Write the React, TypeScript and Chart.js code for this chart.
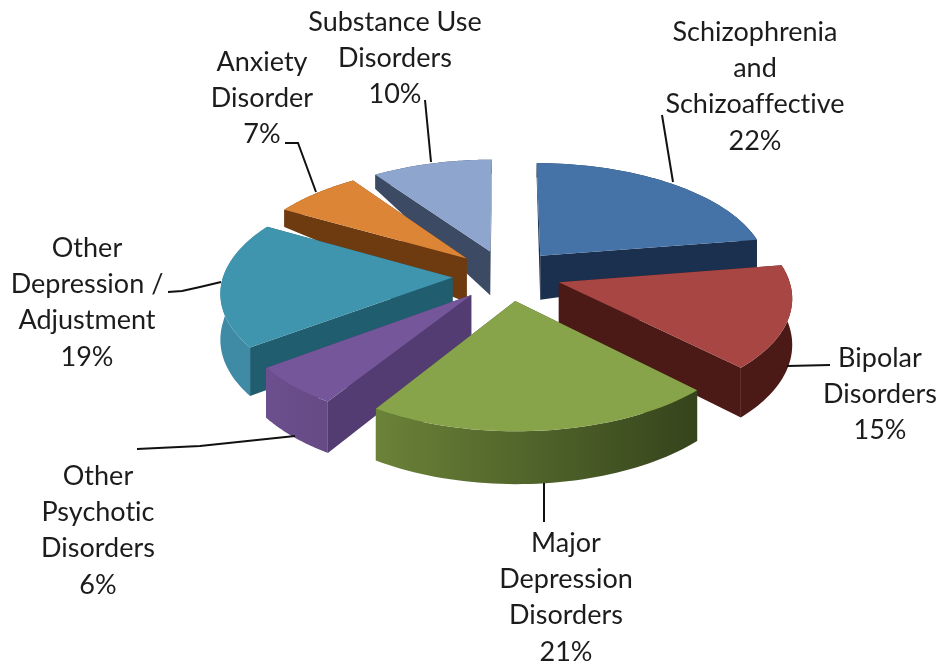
import React, { useEffect, useRef } from "react";
import { Chart, registerables } from "chart.js";

Chart.register(...registerables);

// ---- data ----
const categories = [
  "Schizophrenia and Schizoaffective",
  "Bipolar Disorders",
  "Major Depression Disorders",
  "Other Psychotic Disorders",
  "Other Depression / Adjustment",
  "Anxiety Disorder",
  "Substance Use Disorders",
];
const shares = [22, 15, 21, 6, 19, 7, 10];

const labelLines = [
  ["Schizophrenia", "and", "Schizoaffective"],
  ["Bipolar", "Disorders"],
  ["Major", "Depression", "Disorders"],
  ["Other", "Psychotic", "Disorders"],
  ["Other", "Depression /", "Adjustment"],
  ["Anxiety", "Disorder"],
  ["Substance Use", "Disorders"],
];

// ---- styles ----
const topColors = ["#4573a7", "#a84643", "#88a44b", "#75569a", "#3f94ae", "#dd8537", "#8ea5ce"];
const faceColors = ["#1b2f4f", "#4c1a16", "#3f5020", "#533c72", "#205d6e", "#6e3a10", "#3c4b63"];
const wallLeft = ["#1b2f4f", "#4c1a16", "#6b8238", "#6c4f8e", "#3f8ba5", "#6e3a10", "#3c4b63"];
const wallRight = ["#1b2f4f", "#4c1a16", "#35441c", "#654a85", "#3f8ba5", "#6e3a10", "#3c4b63"];

// label layout: centre x, first line y
const labelX = [755, 880, 566, 98, 87, 262, 395];
const labelY = [32, 358, 543, 476, 248, 62, 22];
const leaders: number[][][] = [
  [[662, 115], [673, 182]],
  [[830, 365], [787, 366]],
  [[544, 522], [544, 483]],
  [[137, 449], [200, 446], [295, 436]],
  [[168, 292], [182, 291], [200, 287], [221, 282]],
  [[285, 143], [298, 143], [316, 192]],
  [[425, 100], [431, 162]],
];

// projection of the pie disc on the page
const CX = 506.5;
const CY = 275;
const RX = 229;
const RY = 108;
const PERSP = 0.12;
const DEPTH = 45;
// angular correction of the projected rim (degrees on the disc -> radians)
const warpAngles = [0, 79, 133, 209, 230, 299, 324, 360];
const warpValues = [0, 0.03, 0.04, 0.06, 0.05, 0.015, 0.02, 0];

function warp(t: number) {
  const deg = (t * 180) / Math.PI;
  for (let i = 1; i < warpAngles.length; i++) {
    if (deg <= warpAngles[i]) {
      const f = (deg - warpAngles[i - 1]) / (warpAngles[i] - warpAngles[i - 1]);
      return warpValues[i - 1] + f * (warpValues[i] - warpValues[i - 1]);
    }
  }
  return 0;
}

function project(u: number, w: number, drop: number): [number, number] {
  const s = 1 / (1 - PERSP * w);
  return [CX + RX * u * s, CY + RY * w * s + drop * DEPTH * s];
}
const rimDrop = (w: number) => (w >= 0 ? 1 : Math.max(0.36, 1 + 0.9 * w));

const depthPlugin = {
  id: "depthPie",
  beforeDatasetsDraw(chart: any) {
    const ctx: CanvasRenderingContext2D = chart.ctx;
    const arcs = chart.getDatasetMeta(0).data;
    const order = arcs
      .map((a: any, i: number) => {
        const m = (a.startAngle + a.endAngle) / 2 + Math.PI / 2;
        return { a, i, key: -Math.cos(m) };
      })
      .sort((p: any, q: any) => p.key - q.key);

    for (const { a, i } of order) {
      const t0 = a.startAngle + Math.PI / 2;
      const t1 = a.endAngle + Math.PI / 2;
      const m = (t0 + t1) / 2;
      const d = a.options.offset / a.outerRadius;
      const du = d * Math.sin(m);
      const dw = -d * Math.cos(m);
      const steps = 48;
      const rim: [number, number][] = [];
      for (let k = 0; k <= steps; k++) {
        const t = t0 + ((t1 - t0) * k) / steps;
        const tw = t + warp(t);
        rim.push([du + Math.sin(tw), dw - Math.cos(tw)]);
      }
      const apex: [number, number] = [du, dw];
      const poly = (pts: [number, number][], fill: any) => {
        ctx.beginPath();
        pts.forEach((p, n) => (n ? ctx.lineTo(p[0], p[1]) : ctx.moveTo(p[0], p[1])));
        ctx.closePath();
        ctx.fillStyle = fill;
        ctx.fill();
      };
      const top = (p: [number, number]) => project(p[0], p[1], 0);
      const low = (p: [number, number]) => project(p[0], p[1], rimDrop(p[1]));
      const apexLow = project(apex[0], apex[1], 1);

      // radial faces
      poly([top(apex), top(rim[0]), low(rim[0]), apexLow], faceColors[i]);
      poly([top(apex), top(rim[steps]), low(rim[steps]), apexLow], faceColors[i]);

      // outer wall
      const wallTop = rim.map(top);
      const wallBottom = rim.map(low).reverse();
      const xs = wallTop.map((p) => p[0]);
      const g = ctx.createLinearGradient(Math.min(...xs), 0, Math.max(...xs), 0);
      g.addColorStop(0, wallLeft[i]);
      g.addColorStop(1, wallRight[i]);
      poly([...wallTop, ...wallBottom], g);

      // top surface
      poly([top(apex), ...wallTop], topColors[i]);
    }
    return false;
  },
  afterDraw(chart: any) {
    const ctx: any = chart.ctx;
    ctx.save();
    ctx.strokeStyle = "#111111";
    ctx.lineWidth = 2;
    leaders.forEach((line) => {
      ctx.beginPath();
      line.forEach((p, n) => (n ? ctx.lineTo(p[0], p[1]) : ctx.moveTo(p[0], p[1])));
      ctx.stroke();
    });
    ctx.fillStyle = "#1c1c1c";
    ctx.font = '27px Lato, "Open Sans", sans-serif';
    ctx.letterSpacing = "0.01px";
    ctx.textAlign = "center";
    ctx.textBaseline = "middle";
    labelLines.forEach((lines, i) => {
      [...lines, shares[i] + "%"].forEach((t, n) => {
        ctx.fillText(t, labelX[i], labelY[i] + n * 36.3);
      });
    });
    ctx.restore();
  },
};

export default function App() {
  const ref = useRef<HTMLCanvasElement>(null);
  useEffect(() => {
    const chart = new Chart(ref.current!, {
      type: "pie",
      data: {
        labels: categories,
        datasets: [{ data: shares, backgroundColor: topColors, borderWidth: 0, offset: 70 }],
      },
      options: {
        animation: false,
        responsive: false,
        plugins: { legend: { display: false }, tooltip: { enabled: false } },
      },
      plugins: [depthPlugin],
    });
    return () => chart.destroy();
  }, []);
  return (
    <div style={{ position: "fixed", left: 0, top: 0, width: 946, height: 663, background: "#fff" }}>
      <canvas ref={ref} width={946} height={663} style={{ display: "block" }} />
    </div>
  );
}
